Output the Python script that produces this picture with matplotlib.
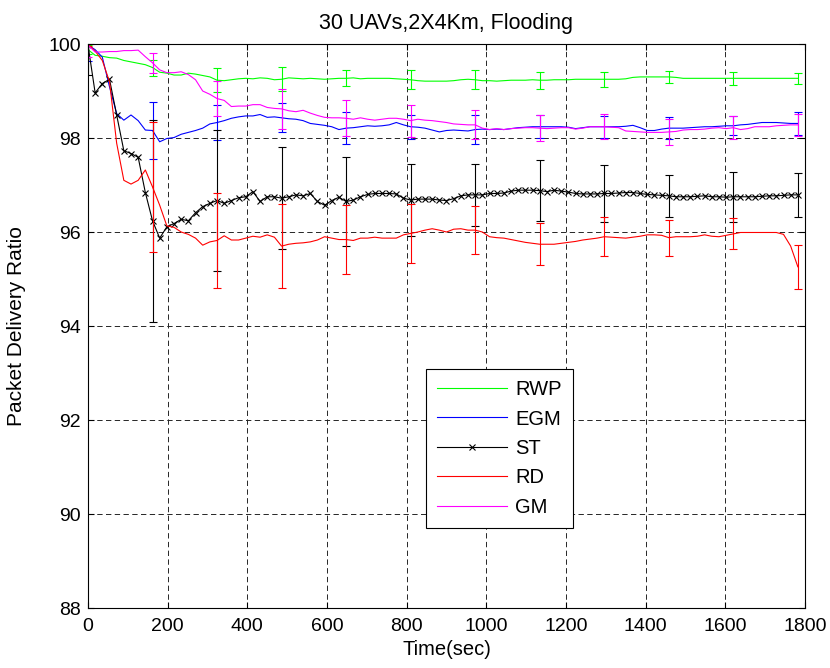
import matplotlib
matplotlib.use('Agg')
import matplotlib.pyplot as plt
import numpy as np

plt.rcParams['font.family'] = ['Liberation Sans', 'DejaVu Sans']

# sample times (sec), one value every 18 s
t = np.arange(0, 1800, 18)

rwp = [99.88, 99.76, 99.74, 99.71, 99.70, 99.65, 99.62, 99.59, 99.56, 99.50,
       99.40, 99.38, 99.34, 99.34, 99.38, 99.36, 99.33, 99.30, 99.23, 99.22,
       99.24, 99.26, 99.27, 99.26, 99.28, 99.27, 99.24, 99.25, 99.28, 99.27,
       99.26, 99.27, 99.26, 99.25, 99.26, 99.27, 99.27, 99.28, 99.26, 99.27,
       99.27, 99.27, 99.27, 99.26, 99.25, 99.24, 99.22, 99.21, 99.21, 99.21,
       99.21, 99.22, 99.24, 99.25, 99.24, 99.22, 99.22, 99.21, 99.22, 99.23,
       99.23, 99.23, 99.24, 99.23, 99.23, 99.24, 99.24, 99.24, 99.25, 99.25,
       99.25, 99.25, 99.25, 99.25, 99.25, 99.26, 99.29, 99.30, 99.30, 99.30,
       99.30, 99.30, 99.29, 99.27, 99.27, 99.27, 99.27, 99.27, 99.27, 99.27,
       99.27, 99.27, 99.27, 99.27, 99.27, 99.27, 99.27, 99.27, 99.27, 99.27]

egm = [99.98, 99.88, 99.72, 99.09, 98.52, 98.38, 98.49, 98.37, 98.17, 98.16,
       97.92, 97.99, 98.01, 98.08, 98.12, 98.16, 98.21, 98.30, 98.33, 98.37,
       98.42, 98.45, 98.47, 98.47, 98.50, 98.44, 98.45, 98.43, 98.41, 98.40,
       98.37, 98.31, 98.29, 98.27, 98.24, 98.18, 98.21, 98.22, 98.24, 98.26,
       98.25, 98.26, 98.28, 98.33, 98.28, 98.24, 98.23, 98.21, 98.17, 98.13,
       98.16, 98.17, 98.16, 98.15, 98.18, 98.19, 98.18, 98.19, 98.18, 98.20,
       98.22, 98.23, 98.24, 98.24, 98.24, 98.24, 98.24, 98.23, 98.20, 98.22,
       98.24, 98.24, 98.24, 98.24, 98.24, 98.25, 98.27, 98.22, 98.16, 98.16,
       98.19, 98.21, 98.21, 98.21, 98.22, 98.23, 98.24, 98.24, 98.25, 98.26,
       98.26, 98.28, 98.29, 98.31, 98.33, 98.33, 98.33, 98.32, 98.31, 98.31]

st = [99.98, 98.96, 99.16, 99.25, 98.49, 97.73, 97.67, 97.59, 96.84, 96.24,
      95.87, 96.11, 96.18, 96.27, 96.24, 96.41, 96.54, 96.61, 96.67, 96.61,
      96.67, 96.73, 96.75, 96.86, 96.65, 96.75, 96.75, 96.72, 96.75, 96.79,
      96.77, 96.82, 96.65, 96.57, 96.67, 96.74, 96.65, 96.68, 96.75, 96.80,
      96.82, 96.82, 96.82, 96.81, 96.72, 96.68, 96.70, 96.70, 96.70, 96.68,
      96.67, 96.71, 96.77, 96.79, 96.79, 96.79, 96.82, 96.82, 96.83, 96.87,
      96.89, 96.89, 96.89, 96.88, 96.86, 96.89, 96.87, 96.85, 96.82, 96.81,
      96.81, 96.81, 96.82, 96.82, 96.83, 96.84, 96.84, 96.82, 96.80, 96.79,
      96.78, 96.77, 96.75, 96.75, 96.75, 96.76, 96.77, 96.75, 96.75, 96.74,
      96.75, 96.75, 96.75, 96.75, 96.76, 96.77, 96.77, 96.78, 96.79, 96.79]

rd = [100.0, 99.85, 99.65, 99.20, 97.89, 97.10, 97.02, 97.10, 97.32, 96.96,
      96.57, 96.13, 96.10, 96.00, 95.95, 95.87, 95.72, 95.79, 95.82, 95.92,
      95.83, 95.83, 95.87, 95.91, 95.89, 95.94, 95.89, 95.70, 95.74, 95.76,
      95.77, 95.79, 95.83, 95.90, 95.87, 95.84, 95.84, 95.82, 95.87, 95.87,
      95.89, 95.87, 95.87, 95.87, 95.94, 95.97, 96.00, 96.04, 96.07, 96.04,
      96.00, 96.06, 96.07, 96.04, 96.04, 96.00, 95.90, 95.88, 95.87, 95.84,
      95.81, 95.78, 95.76, 95.74, 95.74, 95.74, 95.76, 95.78, 95.80, 95.83,
      95.85, 95.87, 95.90, 95.89, 95.88, 95.87, 95.89, 95.91, 95.94, 95.94,
      95.93, 95.88, 95.90, 95.90, 95.90, 95.91, 95.94, 95.91, 95.90, 95.93,
      95.96, 95.99, 95.99, 95.99, 95.99, 95.99, 95.99, 95.95, 95.70, 95.26]

gm = [99.98, 99.83, 99.83, 99.84, 99.84, 99.86, 99.86, 99.87, 99.73, 99.60,
      99.45, 99.39, 99.39, 99.41, 99.35, 99.24, 99.00, 98.93, 98.84, 98.80,
      98.67, 98.68, 98.68, 98.71, 98.71, 98.65, 98.63, 98.62, 98.58, 98.56,
      98.59, 98.53, 98.48, 98.44, 98.43, 98.43, 98.42, 98.40, 98.43, 98.40,
      98.38, 98.40, 98.42, 98.42, 98.40, 98.37, 98.40, 98.38, 98.37, 98.35,
      98.33, 98.30, 98.29, 98.28, 98.28, 98.21, 98.18, 98.20, 98.18, 98.20,
      98.21, 98.22, 98.22, 98.21, 98.20, 98.21, 98.22, 98.22, 98.19, 98.21,
      98.24, 98.24, 98.24, 98.23, 98.22, 98.15, 98.14, 98.13, 98.12, 98.12,
      98.12, 98.13, 98.14, 98.17, 98.18, 98.18, 98.19, 98.21, 98.22, 98.20,
      98.22, 98.18, 98.20, 98.24, 98.24, 98.24, 98.26, 98.27, 98.28, 98.28]

# error bar half-widths, drawn every 9th sample (0, 162, 324, ... 1782 s)
rwp_err = [0.10, 0.17, 0.26, 0.26, 0.17, 0.20, 0.20, 0.18, 0.16, 0.13, 0.14, 0.12]
egm_err = [0.34, 0.60, 0.38, 0.31, 0.34, 0.26, 0.31, 0.25, 0.23, 0.24, 0.20, 0.24]
st_err = [0.63, 2.15, 1.51, 1.09, 0.95, 0.77, 0.66, 0.65, 0.61, 0.44, 0.53, 0.46]
rd_err = [0.05, 1.39, 1.02, 0.90, 0.73, 0.62, 0.51, 0.45, 0.42, 0.38, 0.33, 0.47]
gm_err = [0.25, 0.21, 0.37, 0.43, 0.38, 0.34, 0.31, 0.27, 0.27, 0.27, 0.24, 0.24]

names = ['RWP', 'EGM', 'ST', 'RD', 'GM']
colors = ['#00ff00', '#0000ff', 'black', '#ff0000', '#ff00ff']

fig = plt.figure(figsize=(8.3, 6.68), dpi=100)
ax = fig.add_axes([0.106, 0.0898, 0.8639, 0.8443])

series = [rwp, egm, st, rd, gm]
errs = [rwp_err, egm_err, st_err, rd_err, gm_err]
for y, e, c, n in zip(series, errs, colors, names):
    y = np.array(y)
    if n == 'ST':
        ax.plot(t, y, '-', color=c, lw=0.8, marker='x', ms=5, mew=0.8, label=n)
    else:
        ax.plot(t, y, '-', color=c, lw=0.8, label=n)
    ax.errorbar(t[::9], y[::9], yerr=e, fmt='none', ecolor=c, elinewidth=0.8,
                capsize=3, capthick=0.8)

ax.set_xlim(0, 1800)
ax.set_ylim(88, 100)
ax.set_xticks(np.arange(0, 1801, 200))
ax.set_yticks(np.arange(88, 101, 2))
ax.grid(True, color='0.15', linestyle=(0, (5.5, 3.5)), linewidth=0.7)
ax.tick_params(direction='in', top=True, right=True, length=4, labelsize=14)
ax.tick_params(axis='x', pad=7)
ax.tick_params(axis='y', pad=5)
for s in ax.spines.values():
    s.set_linewidth(0.8)

ax.set_title('30 UAVs,2X4Km, Flooding', fontsize=15.5, pad=11)
ax.set_xlabel('Time(sec)', fontsize=14.5, labelpad=4)
ax.set_ylabel('Packet Delivery Ratio', fontsize=15, labelpad=16)

leg = ax.legend(loc='upper left', bbox_to_anchor=(0.471, 0.4238), fontsize=14.5,
                frameon=True, fancybox=False, edgecolor='black', framealpha=1,
                handlelength=3.5, handletextpad=0.4, labelspacing=0.52,
                borderpad=0.55, borderaxespad=0)
leg.get_frame().set_linewidth(0.8)

fig.savefig('out.png', dpi=100)
